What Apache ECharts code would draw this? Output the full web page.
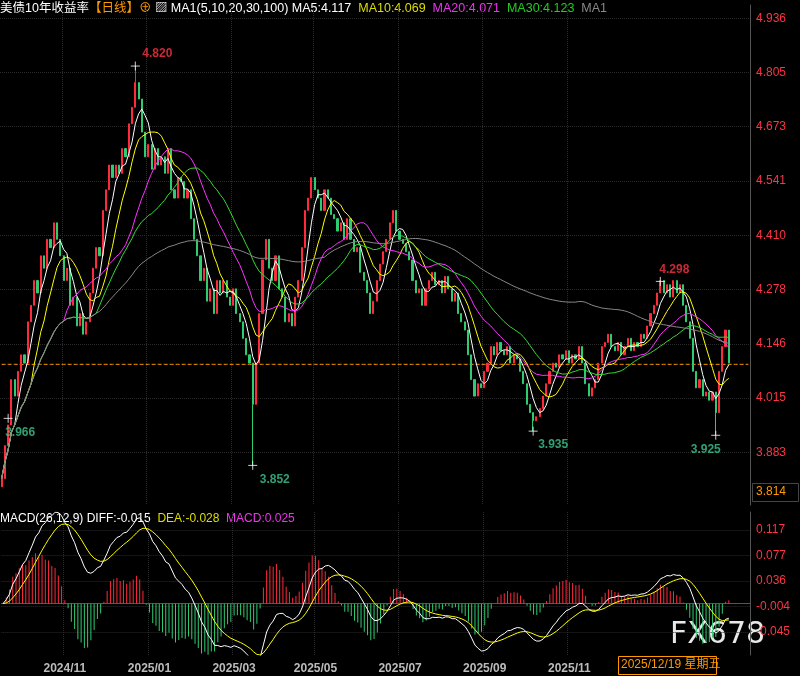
<!DOCTYPE html>
<html><head><meta charset="utf-8">
<script src="https://cdn.jsdelivr.net/npm/echarts@6/dist/echarts.min.js"></script>
<style>html,body{margin:0;background:#000;}#c{width:800px;height:676px;}</style>
</head><body><div id="c"></div>
<script>
const closes = [
3.82,3.90,3.95,4.06,4.02,4.08,4.12,4.10,4.20,
4.24,4.30,4.27,4.36,4.33,4.40,4.38,4.44,4.40,
4.36,4.30,4.33,4.24,4.26,4.19,4.22,4.17,4.20,
4.27,4.33,4.38,4.36,4.47,4.52,4.58,4.55,
4.58,4.56,4.62,4.60,4.68,4.72,4.78,4.74,
4.66,4.60,4.63,4.57,4.62,4.58,4.60,4.56,4.62,4.52,4.50,
4.55,4.54,4.50,4.52,4.45,4.40,4.36,4.30,4.33,
4.25,4.28,4.22,4.30,4.27,4.30,4.26,4.24,4.28,4.22,4.20,4.16,4.12,4.10,4.00,
4.10,4.22,4.35,4.40,4.33,4.30,4.36,4.28,4.26,4.20,4.22,
4.19,4.26,4.30,4.38,4.47,4.50,4.55,4.52,4.50,4.47,4.52,4.50,
4.46,4.45,4.42,4.44,4.40,4.45,4.40,4.37,4.38,4.32,4.30,4.27,4.22,4.25,
4.30,4.34,4.37,4.40,4.44,4.47,4.42,4.40,4.39,4.37,4.35,4.30,4.27,4.28,
4.24,4.28,4.30,4.32,4.29,4.30,4.27,4.31,4.28,4.25,4.27,4.22,4.20,4.18,
4.12,4.06,4.02,4.05,4.04,4.08,4.10,4.14,4.12,4.15,4.13,
4.12,4.14,4.10,4.12,4.11,4.08,4.05,4.00,3.98,3.96,3.97,3.99,4.02,4.05,
4.08,4.10,4.09,4.12,4.11,4.13,4.10,4.12,4.11,4.14,4.10,4.05,4.02,4.04,4.06,4.10,4.14,
4.15,4.17,4.14,4.13,4.15,4.12,4.14,4.16,4.13,4.15,4.14,4.17,4.16,4.19,4.22,4.24,4.27,4.30,
4.27,4.29,4.26,4.30,4.27,4.29,4.24,4.20,4.16,
4.08,4.04,4.06,4.02,4.03,4.01,4.03,3.98,4.08,4.14,4.18,4.10
];
const firstOpen = 3.80;
// extreme wicks: [barIndex, high, low]
const extremes = [[41,4.820,null],[77,null,3.852],[163,null,3.935],[202,4.298,null],[219,null,3.925],[2,null,3.930]];
const extremeLabels = [[41,4.820,'4.820','#ff3344',22],[77,3.852,'3.852','#3cc890',22],[163,3.935,'3.935','#3cc890',20],[202,4.298,'4.298','#ff3344',14],[219,3.925,'3.925','#3cc890',-10],[2,3.966,'3.966','#3cc890',12]];
const monthLabels = {19:'2024/11',45:'2025/01',71:'2025/03',96:'2025/05',122:'2025/07',148:'2025/09',174:'2025/11'};
const yTicks = [4.936,4.805,4.673,4.541,4.410,4.278,4.146,4.015,3.883];
const macdTicks = [0.117,0.077,0.036,-0.004,-0.045];
const lastPrice = 4.097;
const TOTAL = 230;

const cats = []; for (let i=0;i<TOTAL;i++) cats.push(String(i));
const candles = closes.map((c,i)=>{
  const o = i===0?firstOpen:closes[i-1];
  let h=Math.max(o,c), l=Math.min(o,c);
  extremes.forEach(e=>{ if(e[0]===i){ if(e[1]!=null)h=e[1]; if(e[2]!=null)l=e[2]; }});
  return [o,c,l,h];
});
function ma(n){ return closes.map((_,i)=>{const s=closes.slice(Math.max(0,i-n+1),i+1);return +(s.reduce((a,b)=>a+b,0)/s.length).toFixed(4);}); }
function ema(arr,n){ const k=2/(n+1); const out=[]; arr.forEach((v,i)=>out.push(i===0?v:out[i-1]+k*(v-out[i-1]))); return out; }
const e12=ema(closes,12), e26=ema(closes,26);
const diff=closes.map((_,i)=>e12[i]-e26[i]);
const dea=ema(diff,9);
const macd=diff.map((d,i)=>2*(d-dea[i]));

const chart = echarts.init(document.getElementById('c'));
chart.setOption({
  backgroundColor:'#000',
  animation:false,
  grid:[{left:0,right:50,top:5,height:500},{left:0,right:50,top:512,height:143}],
  xAxis:[
    {type:'category',data:cats,gridIndex:0,boundaryGap:true,axisLine:{show:false},axisTick:{show:false},axisLabel:{show:false},
     splitLine:{show:true,interval:(i)=>monthLabels[i]!==undefined,lineStyle:{color:'#2a2a2a',type:'dotted'}}},
    {type:'category',data:cats,gridIndex:1,boundaryGap:true,axisLine:{lineStyle:{color:'#555'}},axisTick:{show:false},
     axisLabel:{interval:0,color:'#bbb',fontWeight:'bold',fontSize:12,fontFamily:'Liberation Sans',margin:8,formatter:(v)=>monthLabels[+v]||''},
     splitLine:{show:true,interval:(i)=>monthLabels[i]!==undefined,lineStyle:{color:'#2a2a2a',type:'dotted'}}}
  ],
  yAxis:[
    {gridIndex:0,position:'right',min:3.756,max:4.968,axisLine:{show:true,lineStyle:{color:'#555'}},
     axisTick:{show:false,customValues:yTicks},
     axisLabel:{customValues:yTicks,color:'#ff3344',fontSize:12,fontFamily:'Liberation Sans',margin:6,formatter:v=>v.toFixed(3)},
     splitLine:{show:true,lineStyle:{color:'#2a2a2a',type:'dotted'}}},
    {gridIndex:1,position:'right',min:-0.0815,max:0.1456,axisLine:{show:true,lineStyle:{color:'#555'}},
     axisTick:{show:false,customValues:macdTicks},
     axisLabel:{customValues:macdTicks,color:'#ff3344',fontSize:12,fontFamily:'Liberation Sans',margin:6,formatter:v=>v.toFixed(3)},
     splitLine:{show:true,lineStyle:{color:'#2a2a2a',type:'dotted'}}}
  ],
  series:[
    {type:'line',data:cats.map(()=>lastPrice),showSymbol:false,silent:true,z:1,
     lineStyle:{color:'#ff9900',type:'dashed',width:1},xAxisIndex:0,yAxisIndex:0},
    {type:'candlestick',data:candles,xAxisIndex:0,yAxisIndex:0,barMaxWidth:2,
     itemStyle:{color:'#ff2a3c',color0:'#2ecc71',borderColor:'#ff2a3c',borderColor0:'#2ecc71',borderWidth:1}},
    {type:'scatter',xAxisIndex:0,yAxisIndex:0,symbol:'path://M0,-1L0,1M-1,0L1,0',symbolSize:9,
     itemStyle:{color:'none',borderColor:'#fff',borderWidth:1},
     data:extremeLabels.map(e=>({value:[e[0],e[1]],
        label:{show:true,formatter:e[2],color:e[3],fontSize:12,fontWeight:'bold',fontFamily:'Liberation Sans',
               position:e[3]==='#ff3344'?'top':'bottom',offset:[e[4],e[3]==='#ff3344'?6:-4]}}))},
    {type:'line',data:ma(5),showSymbol:false,lineStyle:{color:'#ffffff',width:1},xAxisIndex:0,yAxisIndex:0},
    {type:'line',data:ma(10),showSymbol:false,lineStyle:{color:'#ffff00',width:1},xAxisIndex:0,yAxisIndex:0},
    {type:'line',data:ma(20),showSymbol:false,lineStyle:{color:'#ff33ff',width:1},xAxisIndex:0,yAxisIndex:0},
    {type:'line',data:ma(30),showSymbol:false,lineStyle:{color:'#33dd33',width:1},xAxisIndex:0,yAxisIndex:0},
    {type:'line',data:ma(100),showSymbol:false,lineStyle:{color:'#888',width:1},xAxisIndex:0,yAxisIndex:0},
    {type:'bar',data:macd.map(v=>({value:v,itemStyle:{color:v>=0?'#ff2a3c':'#2ecc71'}})),barWidth:1,xAxisIndex:1,yAxisIndex:1},
    {type:'line',data:diff,showSymbol:false,lineStyle:{color:'#fff',width:1},xAxisIndex:1,yAxisIndex:1},
    {type:'line',data:dea,showSymbol:false,lineStyle:{color:'#ffff00',width:1},xAxisIndex:1,yAxisIndex:1}
  ],
  graphic:[
    {type:'text',left:0,top:2,style:{rich:{w:{fill:'#fff'},o:{fill:'#ff9900'},y:{fill:'#dddd00'},m:{fill:'#ee33ee'},g:{fill:'#22cc22'},gr:{fill:'#888'}},
      text:'{w|美债10年收益率}{o|【日线】⊕} {w|▨ MA1(5,10,20,30,100) MA5:4.117}  {y|MA10:4.069}  {m|MA20:4.071}  {g|MA30:4.123}  {gr|MA1}',
      font:'12.5px "Liberation Sans","Noto Sans CJK SC"'}},
    {type:'text',left:0,top:513,style:{rich:{w:{fill:'#fff'},y:{fill:'#dddd00'},m:{fill:'#ee33ee'}},
      text:'{w|MACD(26,12,9) DIFF:-0.015}  {y|DEA:-0.028}  {m|MACD:0.025}',font:'12px "Liberation Sans"'}},
    {type:'rect',left:752,top:483,shape:{width:46,height:18},style:{fill:'#000',stroke:'#444'}},
    {type:'text',left:756,top:486,style:{text:'3.814',fill:'#ff9900',font:'12px "Liberation Sans"'}},
    {type:'text',left:670,top:620,style:{text:'FX678',fill:'#e8e8e8',font:'30px "DejaVu Sans"'}},
    {type:'rect',left:618,top:656,shape:{width:98,height:18},style:{fill:'#000',stroke:'#ff9900',lineWidth:1}},
    {type:'text',left:621,top:659,style:{text:'2025/12/19 星期五',fill:'#ff9900',font:'12px "Liberation Sans","Noto Sans CJK SC"'}}
  ]
});
</script></body></html>
